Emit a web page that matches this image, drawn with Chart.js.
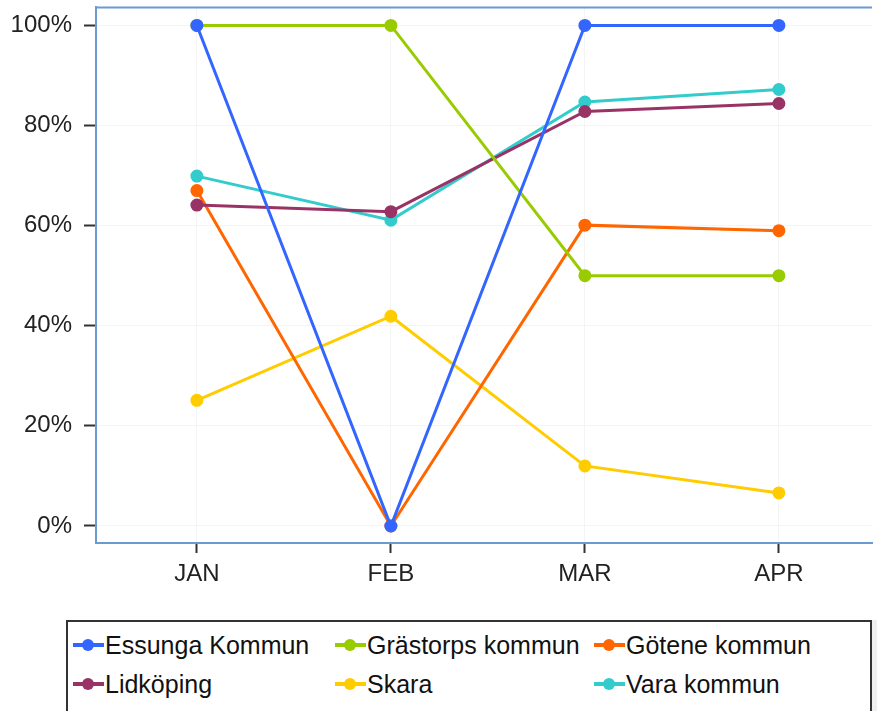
<!DOCTYPE html>
<html>
<head>
<meta charset="utf-8">
<script src="https://cdn.jsdelivr.net/npm/chart.js@4/dist/chart.umd.min.js"></script>
<style>
  html, body { margin: 0; padding: 0; background: #fff; overflow: hidden; width: 877px; height: 711px; }
  #wrap { position: absolute; left: 0; top: -19px; width: 880px; height: 619px; }
  #legend {
    position: absolute; left: 66px; top: 620px; width: 806px; height: 120px;
    border: 2px solid #333; box-sizing: border-box;
    font-family: "Liberation Sans", Arial, sans-serif; font-size: 25px; color: #111;
  }
  .item { position: absolute; display: flex; align-items: center; height: 30px; white-space: nowrap; }
  .mark { position: relative; width: 31px; height: 12px; margin-right: 1px; }
  .mark .ln { position: absolute; left: 0; right: 0; top: 4px; height: 4px; }
  .mark .dt { position: absolute; left: 9px; top: 0; width: 12px; height: 12px; border-radius: 50%; }
  #side { position: absolute; left: 872px; top: 620px; width: 10px; height: 100px; background: #efefef; }
</style>
</head>
<body>
<div id="wrap"><canvas id="chart"></canvas></div>
<div id="legend"></div>
<div id="side"></div>
<script>
// Values in percent
const months = ["JAN", "FEB", "MAR", "APR"];
const yTicks = [0, 20, 40, 60, 80, 100];

const essunga = [100, 0, 100, 100];
const grastorp = [100, 100, 50, 50];
const gotene = [67, 0, 60.1, 59];
const lidkoping = [64.1, 62.8, 82.8, 84.4];
const skara = [25.1, 41.9, 12, 6.6];
const vara = [69.9, 61.1, 84.7, 87.2];

const seriesNames = ["Essunga Kommun", "Grästorps kommun", "Götene kommun", "Lidköping", "Skara", "Vara kommun"];
const seriesData = [essunga, grastorp, gotene, lidkoping, skara, vara];
const seriesColors = ["#3366ff", "#99cc00", "#ff6600", "#993366", "#ffcc00", "#33cccc"];

// Chart.js paints the first dataset on top, so blue goes first
const drawOrder = [0, 1, 3, 5, 2, 4];

const datasets = drawOrder.map((i) => ({
  label: seriesNames[i],
  data: seriesData[i].map((v, j) => ({ x: j, y: v })),
  borderColor: seriesColors[i],
  backgroundColor: seriesColors[i],
  borderWidth: 3,
  pointRadius: 5,
  pointHoverRadius: 5,
  tension: 0,
}));

const font = { family: "Liberation Sans, Arial, sans-serif", size: 24 };

// top frame line of the plot area
const frameTop = {
  id: "frameTop",
  afterDraw(chart) {
    const { ctx, chartArea } = chart;
    ctx.save();
    ctx.strokeStyle = "#6a9acf";
    ctx.lineWidth = 2;
    ctx.beginPath();
    ctx.moveTo(chartArea.left, chartArea.top);
    ctx.lineTo(chartArea.right, chartArea.top);
    ctx.stroke();
    ctx.restore();
  },
};

const chart = new Chart(document.getElementById("chart"), {
  type: "line",
  data: { datasets: datasets },
  options: {
    responsive: true,
    maintainAspectRatio: false,
    animation: false,
    layout: { padding: 0 },
    plugins: { legend: { display: false }, tooltip: { enabled: false } },
    scales: {
      x: {
        type: "linear",
        min: -0.52,
        max: 3.48,
        afterBuildTicks(scale) { scale.ticks = months.map((m, j) => ({ value: j })); },
        grid: { color: "#f4f4f4", lineWidth: 1, tickLength: 10, tickColor: "#333", tickWidth: 2 },
        border: { color: "#6a9acf", width: 2 },
        ticks: {
          color: "#222",
          padding: 7,
          font: font,
          callback: (v) => months[v],
        },
        afterFit(scale) { scale.height = 57; },
      },
      y: {
        min: -3.4,
        max: 103.6,
        afterBuildTicks(scale) { scale.ticks = yTicks.map((v) => ({ value: v })); },
        grid: { color: "#f4f4f4", lineWidth: 1, tickLength: 12, tickColor: "#333", tickWidth: 2 },
        border: { color: "#6a9acf", width: 2 },
        ticks: {
          color: "#222",
          padding: 12,
          font: font,
          callback: (v) => v + "%",
        },
        afterFit(scale) { scale.width = 96; },
      },
    },
  },
  plugins: [frameTop],
});

// HTML legend in three columns
const legendPos = [
  [5, 8], [267, 8], [526, 8],
  [5, 47], [267, 47], [526, 47],
];
const legend = document.getElementById("legend");
seriesNames.forEach((name, i) => {
  const it = document.createElement("div");
  it.className = "item";
  it.style.left = legendPos[i][0] + "px";
  it.style.top = legendPos[i][1] + "px";
  it.innerHTML =
    '<span class="mark"><span class="ln" style="background:' + seriesColors[i] + '"></span>' +
    '<span class="dt" style="background:' + seriesColors[i] + '"></span></span>' +
    "<span>" + name + "</span>";
  legend.appendChild(it);
});
</script>
</body>
</html>
